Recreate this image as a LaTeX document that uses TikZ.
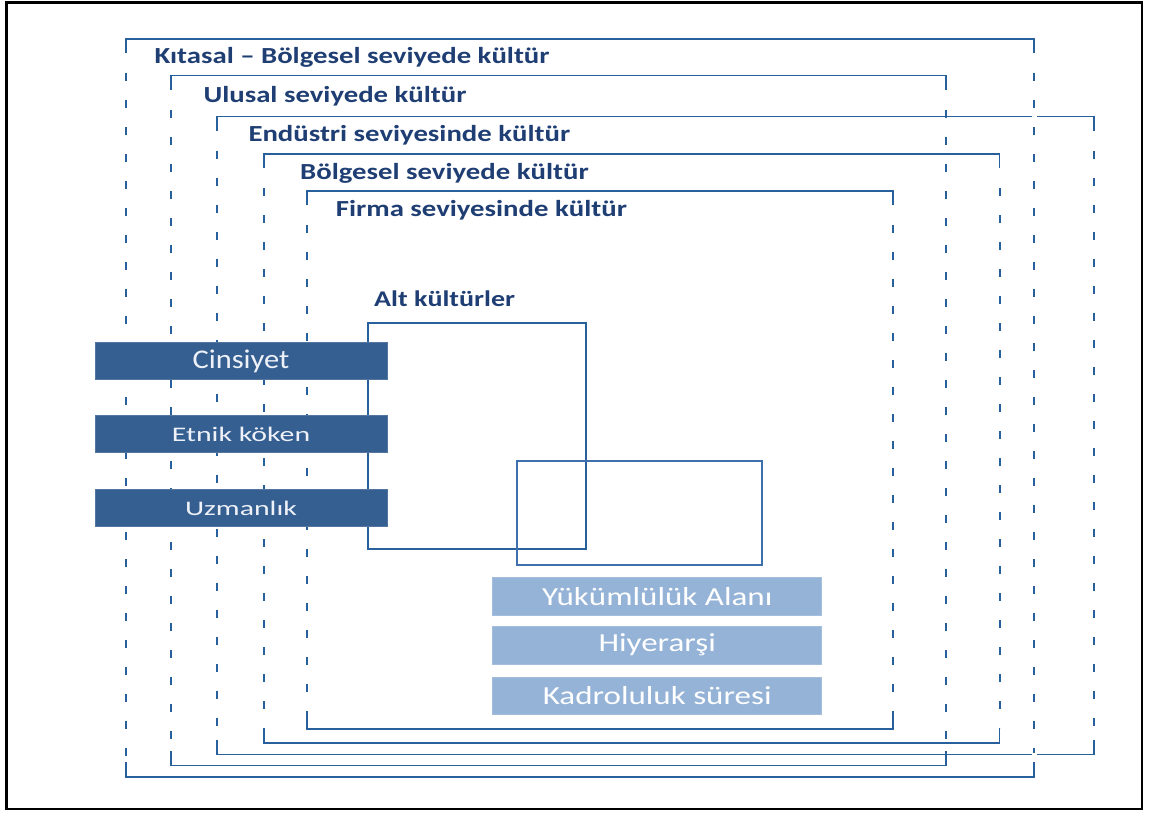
\documentclass[tikz,border=0pt]{standalone}
\usepackage{fontspec}
\setmainfont{Carlito}
\newfontfamily\lvlfont{Carlito}[FakeStretch=1.25]
\newfontfamily\barfontA{Carlito}[FakeStretch=1.13]
\newfontfamily\barfontB{Carlito}[FakeStretch=1.44]
\newfontfamily\barfontC{Carlito}[FakeStretch=1.27]
\definecolor{rimc}{RGB}{40,96,158}
\definecolor{rimlight}{RGB}{62,112,176}
\definecolor{txtc}{RGB}{31,62,115}
\definecolor{barD}{RGB}{54,95,145}
\definecolor{barL}{RGB}{149,179,215}

\tikzset{
  rimline/.style={draw=rimc, line width=1.8pt},
  sidedash/.style={line width=2pt, dash pattern=on 8pt off 19pt},
  lvllabel/.style={anchor=base west, inner sep=0pt, text=txtc,
    font=\lvlfont\bfseries\fontsize{23}{23}\selectfont},
  darkbar/.style={fill=barD, draw=barD!85!white, line width=0.8pt,
    minimum width=292pt, minimum height=37pt, inner sep=0pt,
    text={rgb,255:red,238;green,242;blue,248}},
  lightbar/.style={fill=barL, draw=barL!85!white, line width=0.8pt,
    minimum width=329pt, minimum height=37.5pt, inner sep=0pt, text=white,
    font=\barfontC\fontsize{26}{26}\selectfont},
}

% one cultural level: solid top and bottom edges, dashed sides
\newcommand\levelframe[4]{%
  \draw[rimline] (#1,#2+14) -- (#1,#2) -- (#3,#2) -- (#3,#2+14);
  \draw[rimline] (#1,#4-15) -- (#1,#4) -- (#3,#4) -- (#3,#4-15);
  \draw[rimline,sidedash] (#1,#2+34) -- (#1,#4-15);
  \draw[rimline,sidedash] (#3,#2+34) -- (#3,#4-15);
}

\begin{document}
\begin{tikzpicture}[x=1pt,y=-1pt]
\useasboundingbox (0,0) rectangle (1150,814);

% page frame
\draw[black, line width=2.5pt] (6.5,2.5) rectangle (1142,809);

% nested levels, outermost first
\levelframe{126}{39}{1034}{777}
\levelframe{171}{75.5}{946}{765.5}
\levelframe{217}{116.5}{1094}{754.5}
\levelframe{264}{154}{999.5}{743}
\levelframe{307}{191}{893}{729}

% small breaks where the industry level crosses the continental edge
\fill[white] (1031.5,114.5) rectangle (1036.5,118.5);
\fill[white] (1031.5,752.5) rectangle (1036.5,756.5);

% level titles
\node[lvllabel] (kit) at (154.5,63.3) {Kıtasal – Bölgesel seviyede kültür};
\node[lvllabel] (ulu) at (203.3,102.3) {Ulusal seviyede kültür};
\node[lvllabel] (end) at (248.3,141.7) {Endüstri seviyesinde kültür};
\node[lvllabel] (bol) at (300,179.3) {Bölgesel seviyede kültür};
\node[lvllabel] (fir) at (335.7,216.7) {Firma seviyesinde kültür};
\node[lvllabel,font=\lvlfont\bfseries\fontsize{22.4}{22.4}\selectfont] (alt) at (374,306.7) {Alt kültürler};

% subculture boxes
\draw[rimline] (368,323) rectangle (586,549);
\draw[draw=rimlight, line width=1.8pt] (517,461) rectangle (762,565);

% subculture sources
\node[darkbar, font=\barfontA\fontsize{27}{27}\selectfont] (cin) at (241,361.3) {Cinsiyet};
\node[darkbar, font=\barfontB\fontsize{20.7}{20.7}\selectfont] (etn) at (241,434) {Etnik köken};
\node[darkbar, font=\barfontB\fontsize{20.7}{20.7}\selectfont] (uzm) at (241,508.3) {Uzmanlık};

% firm-level dimensions
\node[lightbar] (yuk) at (657.2,596.2) {Yükümlülük Alanı};
\node[lightbar] (hiy) at (657.2,645.2) {Hiyerarşi};
\node[lightbar] (kad) at (657.2,695.8) {Kadroluluk süresi};
\end{tikzpicture}
\end{document}
